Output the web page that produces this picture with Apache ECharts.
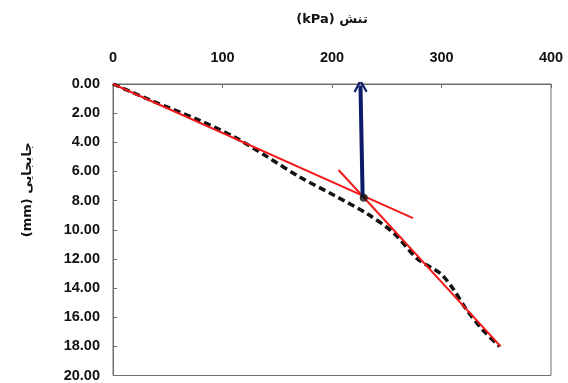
<!DOCTYPE html>
<html>
<head>
<meta charset="utf-8">
<script src="https://cdn.jsdelivr.net/npm/echarts@6/dist/echarts.min.js"></script>
<style>
  html, body { margin: 0; padding: 0; background: #fff; }
  #chart { width: 568px; height: 383px; }
</style>
</head>
<body>
<div id="chart"></div>
<script>
var chart = echarts.init(document.getElementById('chart'));

// measured curve (stress kPa, settlement mm)
const stress = [0, 34, 79, 110, 141, 171, 201, 232, 256, 278, 299, 311, 323, 338, 353];
const settlement = [0, 1.1, 2.5, 3.6, 5.0, 6.4, 7.6, 8.9, 10.2, 12.0, 13.0, 14.1, 15.5, 16.9, 18.0];

// tangent lines
const tangent1 = [[0, 0], [274, 9.2]];
const tangent2 = [[206, 5.9], [354, 18.0]];

// intersection point and arrow to axis
const yieldPoint = [229, 7.8];
const arrow = [[228, 7.8], [226, 0.1]];

const xTicks = [0, 100, 200, 300, 400];
const yMax = 20;

const curve = stress.map(function (s, i) { return [s, settlement[i]]; });

const labelFont = {
  fontFamily: 'Liberation Sans',
  fontWeight: 'bold',
  fontSize: 14.5,
  color: '#111'
};

const nameFont = { fontFamily: 'DejaVu Sans', fontWeight: 'bold', fontSize: 13, color: '#111' };

const option = {
  animation: false,
  backgroundColor: '#fff',
  grid: {
    left: 113, right: 17, top: 84, bottom: 7,
    show: true,
    borderColor: '#6f6f6f',
    borderWidth: 1
  },
  xAxis: {
    type: 'value',
    position: 'top',
    min: xTicks[0],
    max: xTicks[xTicks.length - 1],
    interval: 100,
    name: '(kPa) تنش',
    nameLocation: 'middle',
    nameGap: 58,
    nameTextStyle: nameFont,
    axisLine: { show: true, lineStyle: { color: '#6f6f6f', width: 1 } },
    axisTick: { show: true, inside: true, length: 4, lineStyle: { color: '#6f6f6f' } },
    axisLabel: Object.assign({ margin: 19 }, labelFont),
    splitLine: { show: false }
  },
  yAxis: {
    type: 'value',
    inverse: true,
    min: 0,
    max: yMax,
    interval: 2,
    name: '(mm) جابجایی',
    nameLocation: 'middle',
    nameGap: 79,
    nameRotate: 90,
    nameTextStyle: Object.assign({ padding: [0, 0, 0, 80] }, nameFont),
    axisLine: { show: true, lineStyle: { color: '#6f6f6f', width: 1 } },
    axisTick: { show: true, inside: true, length: 4, lineStyle: { color: '#6f6f6f' } },
    axisLabel: Object.assign({
      margin: 13,
      formatter: function (v) { return v.toFixed(2); }
    }, labelFont),
    splitLine: { show: false }
  },
  series: [
    {
      type: 'line',
      data: curve,
      smooth: 0.3,
      symbol: 'none',
      lineStyle: { color: '#111', width: 3.5, type: [7, 4] },
      z: 2
    },
    {
      type: 'line',
      data: tangent1,
      symbol: 'none',
      lineStyle: { color: '#f21a1a', width: 2 },
      z: 3
    },
    {
      type: 'line',
      data: tangent2,
      symbol: 'none',
      lineStyle: { color: '#f21a1a', width: 2 },
      z: 3
    },
    {
      type: 'lines',
      coordinateSystem: 'cartesian2d',
      polyline: false,
      symbol: ['none', 'path://M0,10 L5,0 L10,10 L8.6,10.8 L5,3.6 L1.4,10.8 Z'],
      symbolSize: [15, 14],
      lineStyle: { color: '#0d1b6b', width: 4, opacity: 1 },
      data: [{ coords: arrow }],
      z: 4
    },
    {
      type: 'scatter',
      data: [yieldPoint],
      symbolSize: 8,
      itemStyle: { color: '#111' },
      z: 5
    }
  ]
};

chart.setOption(option);
</script>
</body>
</html>
